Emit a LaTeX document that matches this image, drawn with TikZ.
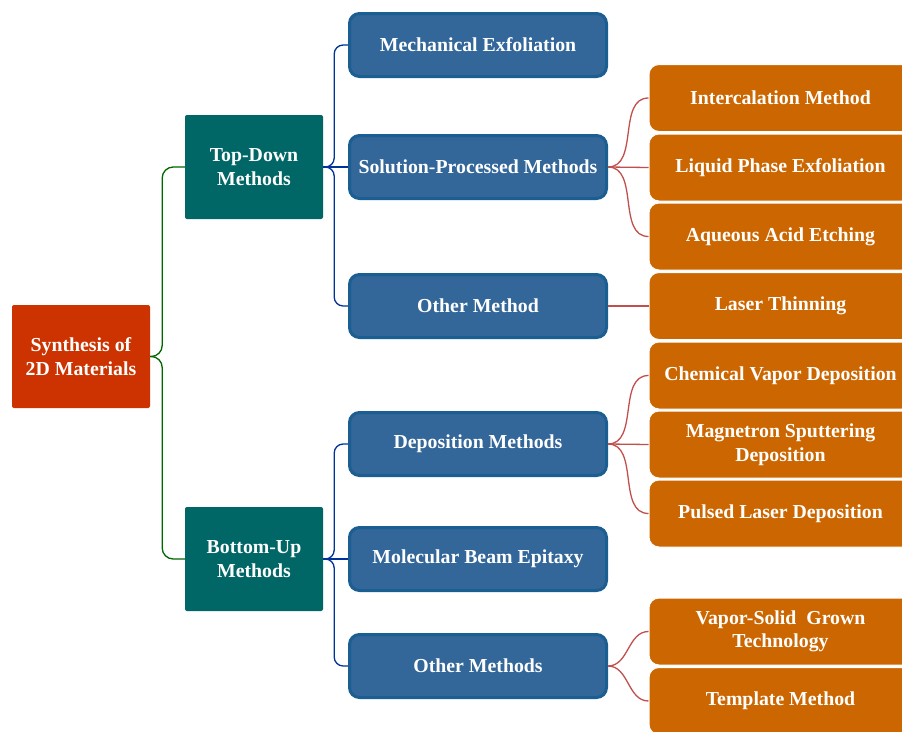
\documentclass[tikz,border=0pt]{standalone}
\usepackage{fontspec}
\setmainfont{Liberation Serif}
\begin{document}
\begin{tikzpicture}[x=1pt,y=-1pt,
  txt/.style={text=white,font=\fontsize{19.8}{23.5}\selectfont\bfseries,align=center,inner sep=0pt},
  rootbox/.style={txt,fill=rootc,rounded corners=2pt,minimum width=138pt,minimum height=103pt},
  tealbox/.style={txt,fill=tealc,rounded corners=2pt,minimum width=138pt,minimum height=104pt},
  bluebox/.style={txt,fill=bluef,draw=blued,line width=3pt,rounded corners=10pt,minimum width=257pt,minimum height=63pt},
  orbox/.style={txt,fill=orc,draw=white,line width=1pt,rounded corners=10pt,minimum width=263pt,minimum height=67pt},
  gline/.style={draw=greenl,line width=1.3pt,rounded corners=11pt},
  bline/.style={draw=bluel,line width=1.3pt,rounded corners=9pt},
  rline/.style={draw=redl,line width=1.3pt}]
\definecolor{rootc}{HTML}{CC3300}
\definecolor{tealc}{HTML}{006666}
\definecolor{bluef}{HTML}{336699}
\definecolor{blued}{HTML}{1B5E91}
\definecolor{orc}{HTML}{CC6600}
\definecolor{greenl}{HTML}{006600}
\definecolor{bluel}{HTML}{003399}
\definecolor{redl}{HTML}{C0504D}
\useasboundingbox (0,0) rectangle (902,731);
% nodes
\node[rootbox] (root) at (81,356.5) {Synthesis of\\2D Materials};
\node[tealbox] (td) at (254,167) {Top-Down\\Methods};
\node[tealbox] (bu) at (254,559) {Bottom-Up\\Methods};
\node[bluebox] (me) at (478,45) {Mechanical Exfoliation};
\node[bluebox] (sp) at (478,167) {Solution-Processed Methods};
\node[bluebox] (om) at (478,306) {Other Method};
\node[bluebox] (dm) at (478,444) {Deposition Methods};
\node[bluebox] (mbe) at (478,559) {Molecular Beam Epitaxy};
\node[bluebox] (oms) at (478,666) {Other Methods};
\node[orbox] (ic) at (780.5,98) {Intercalation Method};
\node[orbox] (lpe) at (780.5,167.5) {Liquid Phase Exfoliation};
\node[orbox] (aae) at (780.5,236.5) {Aqueous Acid Etching};
\node[orbox] (lt) at (780.5,306) {Laser Thinning};
\node[orbox] (cvd) at (780.5,375.5) {Chemical Vapor Deposition};
\node[orbox] (msd) at (780.5,444.5) {Magnetron Sputtering\\Deposition};
\node[orbox] (pld) at (780.5,513.5) {Pulsed Laser Deposition};
\node[orbox] (vs) at (780.5,631.5) {Vapor-Solid~ Grown\\Technology};
\node[orbox] (tm) at (780.5,701) {Template Method};
% green connectors
\draw[gline] (root.east) -- ++(12,0) |- (td.west);
\draw[gline] (root.east) -- ++(12,0) |- (bu.west);
% blue connectors
\draw[bline] (td.east) -- ++(11,0) |- (me.west);
\draw[bline] (td.east) -- (sp.west);
\draw[bline] (td.east) -- ++(11,0) |- (om.west);
\draw[bline] (bu.east) -- ++(11,0) |- (dm.west);
\draw[bline] (bu.east) -- (mbe.west);
\draw[bline] (bu.east) -- ++(11,0) |- (oms.west);
% red connectors
\draw[rline] (sp.east) to[out=0,in=180] (ic.west);
\draw[rline] (sp.east) -- (lpe.west);
\draw[rline] (sp.east) to[out=0,in=180] (aae.west);
\draw[rline] (om.east) -- (lt.west);
\draw[rline] (dm.east) to[out=0,in=180] (cvd.west);
\draw[rline] (dm.east) -- (msd.west);
\draw[rline] (dm.east) to[out=0,in=180] (pld.west);
\draw[rline] (oms.east) to[out=0,in=180] (vs.west);
\draw[rline] (oms.east) to[out=0,in=180] (tm.west);
\end{tikzpicture}
\end{document}
